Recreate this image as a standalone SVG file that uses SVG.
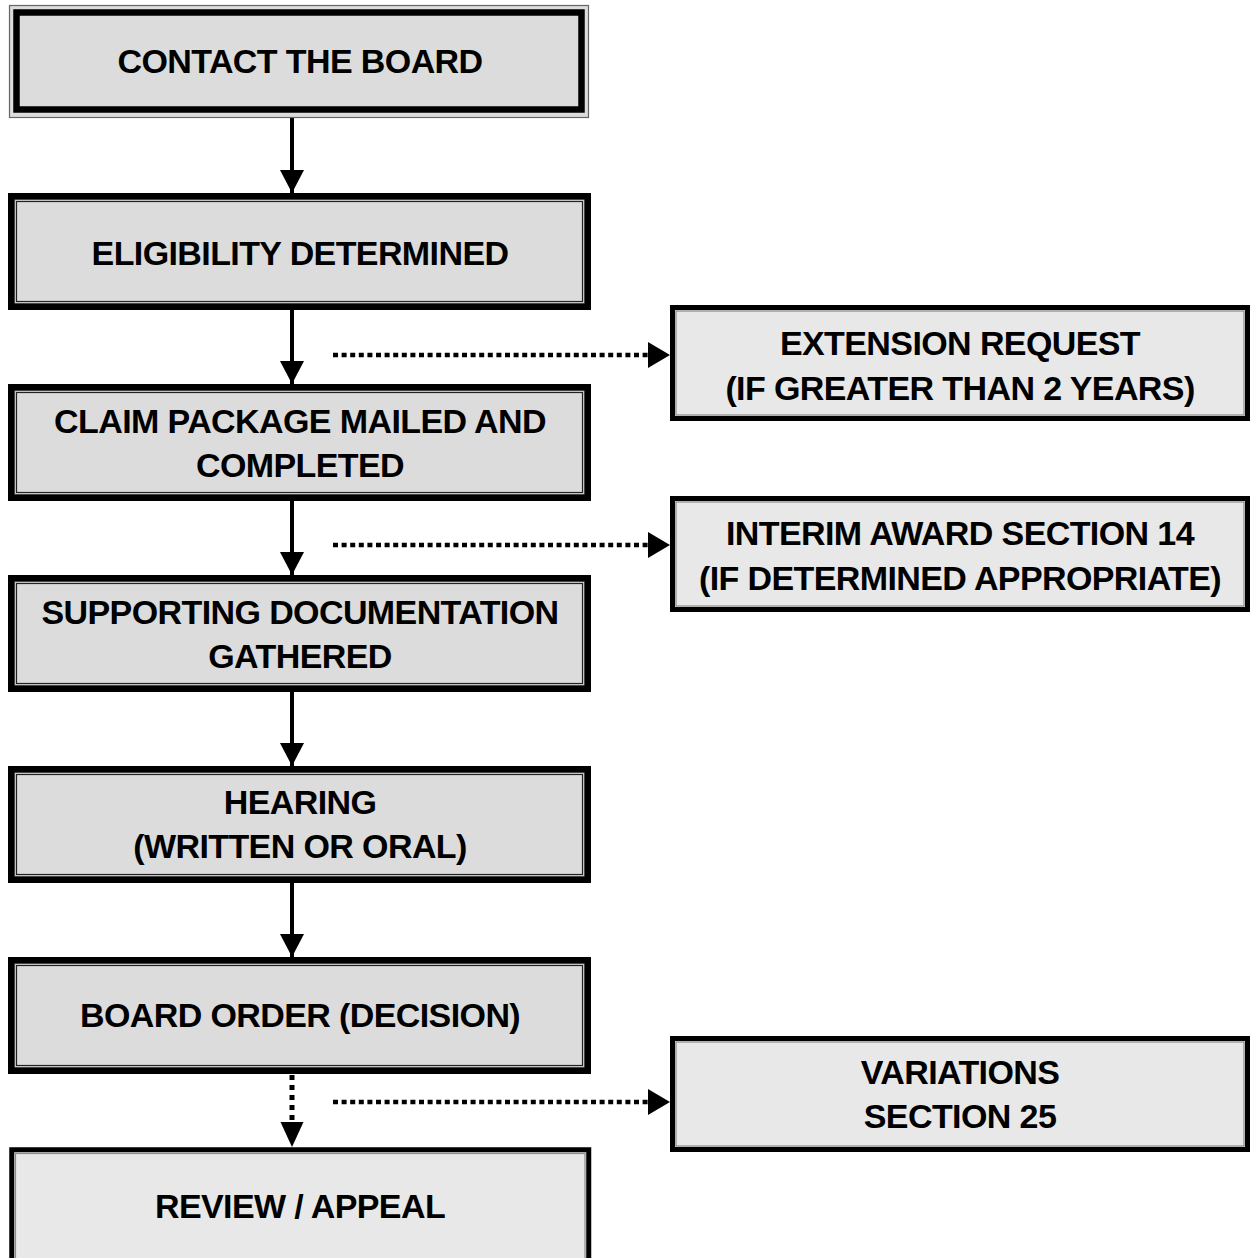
<svg xmlns="http://www.w3.org/2000/svg" width="1251" height="1258" viewBox="0 0 1251 1258">
<style>
.t{font-family:"Liberation Sans",Arial,sans-serif;font-weight:bold;font-size:34px;fill:#000;text-anchor:middle;letter-spacing:-0.6px}
.fill1{fill:#dcdcdc}
.thick{fill:none;stroke:#000;stroke-width:6.5}
.thin{fill:none;stroke:#222;stroke-width:1.2}
.gray{fill:none;stroke:#8a8a8a;stroke-width:1.2}
.rbox{fill:#e8e8e8;stroke:#000;stroke-width:5}
.solid{stroke:#000;stroke-width:4;fill:none}
.dot{stroke:#000;stroke-width:4.5;fill:none;stroke-dasharray:5 3.6}
.vdot{stroke:#000;stroke-width:5;fill:none;stroke-dasharray:5 5}
</style>
<defs>
<marker id="ah" markerUnits="userSpaceOnUse" markerWidth="24" markerHeight="26" refX="23" refY="12" orient="auto" viewBox="0 0 24 24">
<path d="M0,0 L23,12 L0,24 Z" fill="#000"/>
</marker>
</defs>
<rect width="1251" height="1258" fill="#fff"/>

<g id="connectors">
<line class="solid" x1="292" y1="117" x2="292" y2="193" marker-end="url(#ah)"/>
<line class="solid" x1="292" y1="310" x2="292" y2="384" marker-end="url(#ah)"/>
<line class="solid" x1="292" y1="501" x2="292" y2="575" marker-end="url(#ah)"/>
<line class="solid" x1="292" y1="692" x2="292" y2="766" marker-end="url(#ah)"/>
<line class="solid" x1="292" y1="883" x2="292" y2="957" marker-end="url(#ah)"/>
<line class="vdot" x1="292" y1="1075" x2="292" y2="1123"/>
<path d="M280.5,1122 L303.5,1122 L292,1147 Z" fill="#000"/>
<line class="dot" x1="333" y1="355" x2="650" y2="355"/>
<path d="M648,342 L670,355 L648,368 Z" fill="#000"/>
<line class="dot" x1="333" y1="545" x2="650" y2="545"/>
<path d="M648,532 L670,545 L648,558 Z" fill="#000"/>
<line class="dot" x1="333" y1="1102" x2="650" y2="1102"/>
<path d="M648,1089 L670,1102 L648,1115 Z" fill="#000"/>
</g>

<g id="n1">
<rect x="9.5" y="5.5" width="579" height="112" fill="#dcdcdc" stroke="#666" stroke-width="1.2"/>
<rect x="16.5" y="12.5" width="565" height="97" class="thick" stroke-width="7"/>
<text class="t" x="300" y="73">CONTACT THE BOARD</text>
</g>

<g id="n2">
<rect x="11.25" y="196.25" width="576.5" height="110.5" class="fill1"/>
<rect x="16.5" y="201.5" width="566" height="100" class="thin"/>
<rect x="14.5" y="199.5" width="570" height="104" class="gray"/>
<rect x="11.25" y="196.25" width="576.5" height="110.5" class="thick"/>
<text class="t" x="300" y="265">ELIGIBILITY DETERMINED</text>
</g>

<g id="n3">
<rect x="11.25" y="387.25" width="576.5" height="110.5" class="fill1"/>
<rect x="16.5" y="392.5" width="566" height="100" class="thin"/>
<rect x="14.5" y="390.5" width="570" height="104" class="gray"/>
<rect x="11.25" y="387.25" width="576.5" height="110.5" class="thick"/>
<text class="t" x="300" y="433">CLAIM PACKAGE MAILED AND</text>
<text class="t" x="300" y="477">COMPLETED</text>
</g>

<g id="n4">
<rect x="11.25" y="578.25" width="576.5" height="110.5" class="fill1"/>
<rect x="16.5" y="583.5" width="566" height="100" class="thin"/>
<rect x="14.5" y="581.5" width="570" height="104" class="gray"/>
<rect x="11.25" y="578.25" width="576.5" height="110.5" class="thick"/>
<text class="t" x="300" y="624">SUPPORTING DOCUMENTATION</text>
<text class="t" x="300" y="668">GATHERED</text>
</g>

<g id="n5">
<rect x="11.25" y="769.25" width="576.5" height="110.5" class="fill1"/>
<rect x="16.5" y="774.5" width="566" height="100" class="thin"/>
<rect x="14.5" y="772.5" width="570" height="104" class="gray"/>
<rect x="11.25" y="769.25" width="576.5" height="110.5" class="thick"/>
<text class="t" x="300" y="814">HEARING</text>
<text class="t" x="300" y="858">(WRITTEN OR ORAL)</text>
</g>

<g id="n6">
<rect x="11.25" y="960.25" width="576.5" height="110.5" class="fill1"/>
<rect x="16.5" y="965.5" width="566" height="100" class="thin"/>
<rect x="14.5" y="963.5" width="570" height="104" class="gray"/>
<rect x="11.25" y="960.25" width="576.5" height="110.5" class="thick"/>
<text class="t" x="300" y="1027">BOARD ORDER (DECISION)</text>
</g>

<g id="n7">
<rect x="11.75" y="1149.75" width="577" height="130" class="rbox" stroke-width="5.5"/>
<rect x="15.5" y="1153.5" width="569.5" height="120" class="gray"/>
<text class="t" x="300" y="1218">REVIEW / APPEAL</text>
</g>

<g id="r1">
<rect x="672.5" y="307.5" width="575" height="111" class="rbox"/>
<rect x="676" y="311" width="568" height="104" class="gray"/>
<text class="t" x="960" y="355">EXTENSION REQUEST</text>
<text class="t" x="960" y="400">(IF GREATER THAN 2 YEARS)</text>
</g>

<g id="r2">
<rect x="672.5" y="498.5" width="575" height="111" class="rbox"/>
<rect x="676" y="502" width="568" height="104" class="gray"/>
<text class="t" x="960" y="545">INTERIM AWARD SECTION 14</text>
<text class="t" x="960" y="590">(IF DETERMINED APPROPRIATE)</text>
</g>

<g id="r3">
<rect x="672.5" y="1038.5" width="575" height="111" class="rbox"/>
<rect x="676" y="1042" width="568" height="104" class="gray"/>
<text class="t" x="960" y="1084">VARIATIONS</text>
<text class="t" x="960" y="1128">SECTION 25</text>
</g>
</svg>
